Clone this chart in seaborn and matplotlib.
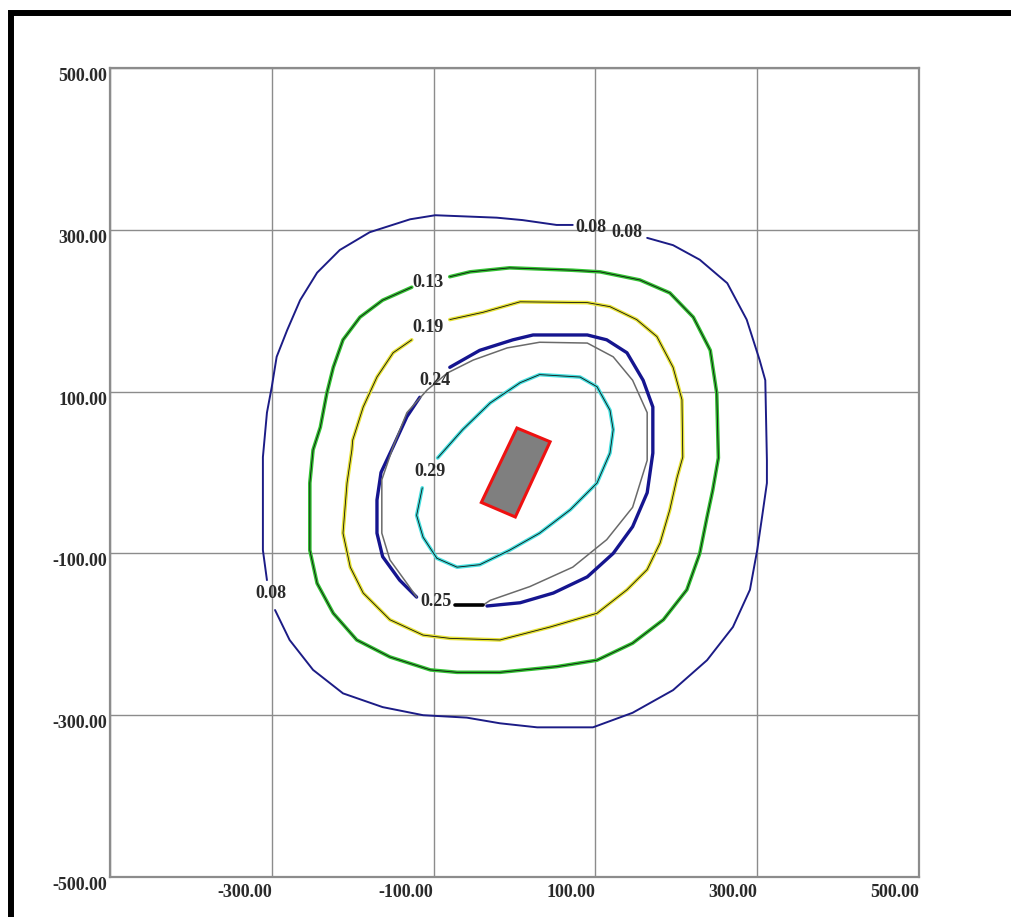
import matplotlib
matplotlib.use("Agg")
from matplotlib import pyplot as plt
from matplotlib.patches import Rectangle
import pandas as pd
import seaborn as sns

# axis ticks
TICKS = [-500, -300, -100, 100, 300, 500]

# contour outlines (x, y), split at the label gaps
LEVEL_008_A = [(164, 290), (196, 281), (229, 263), (263, 234), (287, 189), (303, 139),
               (310, 114), (312, 15), (312, -13), (306, -55), (300, -96), (291, -145),
               (270, -191), (238, -232), (196, -269), (146, -297), (97, -315), (28, -315),
               (-18, -310), (-59, -303), (-113, -300), (-163, -290), (-212, -273),
               (-249, -244), (-278, -207), (-296, -170)]
LEVEL_008_B = [(-306, -133), (-311, -96), (-311, 19), (-306, 74), (-300, 106), (-294, 143),
               (-281, 176), (-265, 213), (-244, 247), (-216, 275), (-179, 297), (-129, 313),
               (-98, 318), (-22, 315), (10, 312), (52, 306), (72, 306)]
LEVEL_013 = [(-80, 242), (-55, 248), (-6, 253), (72, 250), (106, 248), (155, 238), (192, 222),
             (221, 192), (242, 151), (250, 98), (252, 18), (245, -22), (238, -55), (229, -100),
             (213, -145), (184, -182), (146, -211), (102, -232), (52, -240), (-18, -247),
             (-71, -247), (-104, -244), (-154, -228), (-195, -207), (-224, -174), (-244, -137),
             (-253, -96), (-253, -13), (-249, 28), (-240, 56), (-232, 98), (-224, 130),
             (-212, 164), (-191, 192), (-163, 213), (-127, 229)]
LEVEL_019 = [(-80, 189), (-39, 198), (7, 211), (90, 210), (118, 205), (151, 189), (176, 168),
             (196, 130), (207, 90), (208, 19), (201, -6), (192, -46), (180, -87), (164, -120),
             (139, -145), (102, -174), (44, -191), (-18, -207), (-80, -205), (-113, -201),
             (-154, -182), (-187, -149), (-203, -117), (-212, -75), (-207, -13), (-201, 28),
             (-200, 40), (-187, 81), (-170, 118), (-150, 148), (-127, 164)]
LEVEL_024_A = [(-80, 130), (-43, 151), (-2, 164), (23, 170), (90, 170), (114, 164), (139, 148),
               (159, 114), (171, 81), (171, 24), (164, -25), (146, -67), (122, -100),
               (90, -129), (48, -149), (7, -161), (-34, -165)]
LEVEL_024_B = [(-121, -154), (-142, -133), (-163, -104), (-170, -75), (-170, -34), (-165, 0),
               (-158, 15), (-150, 32), (-133, 69), (-117, 93)]
LEVEL_025 = [(-74, -164), (-39, -164), (-30, -158), (19, -141), (72, -117), (114, -83),
             (146, -43), (164, 15), (164, 74), (146, 114), (122, 143), (90, 160), (31, 161),
             (-9, 154), (-51, 139), (-83, 123), (-108, 102), (-133, 74), (-150, 32),
             (-164, -9), (-164, -75), (-154, -108), (-133, -137), (-121, -154)]
LEVEL_029 = [(-95, 18), (-64, 53), (-30, 86), (7, 111), (31, 121), (81, 118), (102, 106),
             (118, 77), (122, 53), (118, 24), (102, -13), (69, -46), (31, -75), (-6, -96),
             (-43, -114), (-71, -117), (-96, -106), (-113, -80), (-121, -53), (-114, -19)]

# source footprint
SOURCE_X = [3, 44, 1, -41]
SOURCE_Y = [55, 38, -55, -37]

# contour labels
LABEL_TEXT = ["0.08", "0.08", "0.08", "0.13", "0.19", "0.24", "0.29", "0.25"]
LABEL_X = [95, 139, -301, -107, -107, -98, -104, -97]
LABEL_Y = [303, 297, -149, 235, 179, 114, 1, -160]

pieces = [
    ("0.08a", LEVEL_008_A), ("0.08b", LEVEL_008_B), ("0.13", LEVEL_013),
    ("0.19", LEVEL_019), ("0.24a", LEVEL_024_A), ("0.24b", LEVEL_024_B),
    ("0.25", LEVEL_025), ("0.29", LEVEL_029),
]
rows = []
for name, pts in pieces:
    for i, (x, y) in enumerate(pts):
        rows.append({"piece": name, "order": i, "x": x, "y": y})
df = pd.DataFrame(rows)

# colour, width, dark core
styles = {
    "0.08a": ("#1c1c86", 1.4, False),
    "0.08b": ("#1c1c86", 1.4, False),
    "0.13": ("#33c233", 2.6, True),
    "0.19": ("#e6e236", 2.6, True),
    "0.24a": ("#15158f", 2.4, False),
    "0.24b": ("#15158f", 2.4, False),
    "0.25": ("#6a6a6a", 1.1, False),
    "0.29": ("#44dede", 2.6, True),
}

sns.set_style("white")
plt.rcParams["font.family"] = ["Liberation Serif", "DejaVu Serif"]

fig = plt.figure(figsize=(10.12, 9.17), dpi=100)
ax = fig.add_axes([110 / 1012, 40 / 917, 809 / 1012, 809 / 917])

for name, _ in pieces:
    color, lw, core = styles[name]
    sub = df[df["piece"] == name]
    sns.lineplot(data=sub, x="x", y="y", sort=False, estimator=None,
                 color=color, linewidth=lw, ax=ax, zorder=3)
    if core:
        sns.lineplot(data=sub, x="x", y="y", sort=False, estimator=None,
                     color="#111111", linewidth=0.6, ax=ax, zorder=4)

# black overlap stretch at the 0.25 label
seg = df[(df["piece"] == "0.25") & (df["order"] < 2)]
sns.lineplot(data=seg, x="x", y="y", sort=False, estimator=None,
             color="#000000", linewidth=2.6, ax=ax, zorder=5)

ax.fill(SOURCE_X, SOURCE_Y, facecolor="#7f7f7f", edgecolor="#ee1111",
        linewidth=2.2, zorder=6)

for txt, x, y in zip(LABEL_TEXT, LABEL_X, LABEL_Y):
    ax.text(x, y, txt, ha="center", va="center", fontsize=13,
            fontweight="bold", color="#2a2a2a", zorder=7)

ax.set_xlim(-500, 500)
ax.set_ylim(-500, 500)
ax.set_xticks(TICKS)
ax.set_yticks(TICKS)
# the -500 corner label is shared by both axes in the reference
ax.set_xticklabels(["" if t == TICKS[0] else "%.2f" % t for t in TICKS])
ax.set_yticklabels(["%.2f" % t for t in TICKS])
ax.set_xlabel("")
ax.set_ylabel("")
ax.tick_params(length=0, labelsize=13, colors="#2a2a2a")
ax.tick_params(axis="x", pad=5)
ax.tick_params(axis="y", pad=2)
for lab in ax.get_xticklabels():
    lab.set_ha("right")
    lab.set_fontweight("bold")
for lab in ax.get_yticklabels():
    lab.set_va("top")
    lab.set_fontweight("bold")

ax.grid(True, color="#8c8c8c", linewidth=1.0)
ax.set_axisbelow(True)
for sp in ax.spines.values():
    sp.set_color("#8c8c8c")
    sp.set_linewidth(1.6)

# screenshot frame (runs off the right and bottom edges)
fig.add_artist(Rectangle((11 / 1012, -0.1), 1.2, 1 - 13 / 917 + 0.1,
                         transform=fig.transFigure, fill=False,
                         edgecolor="black", linewidth=4.3, clip_on=False))

fig.savefig("out.png", dpi=100)
